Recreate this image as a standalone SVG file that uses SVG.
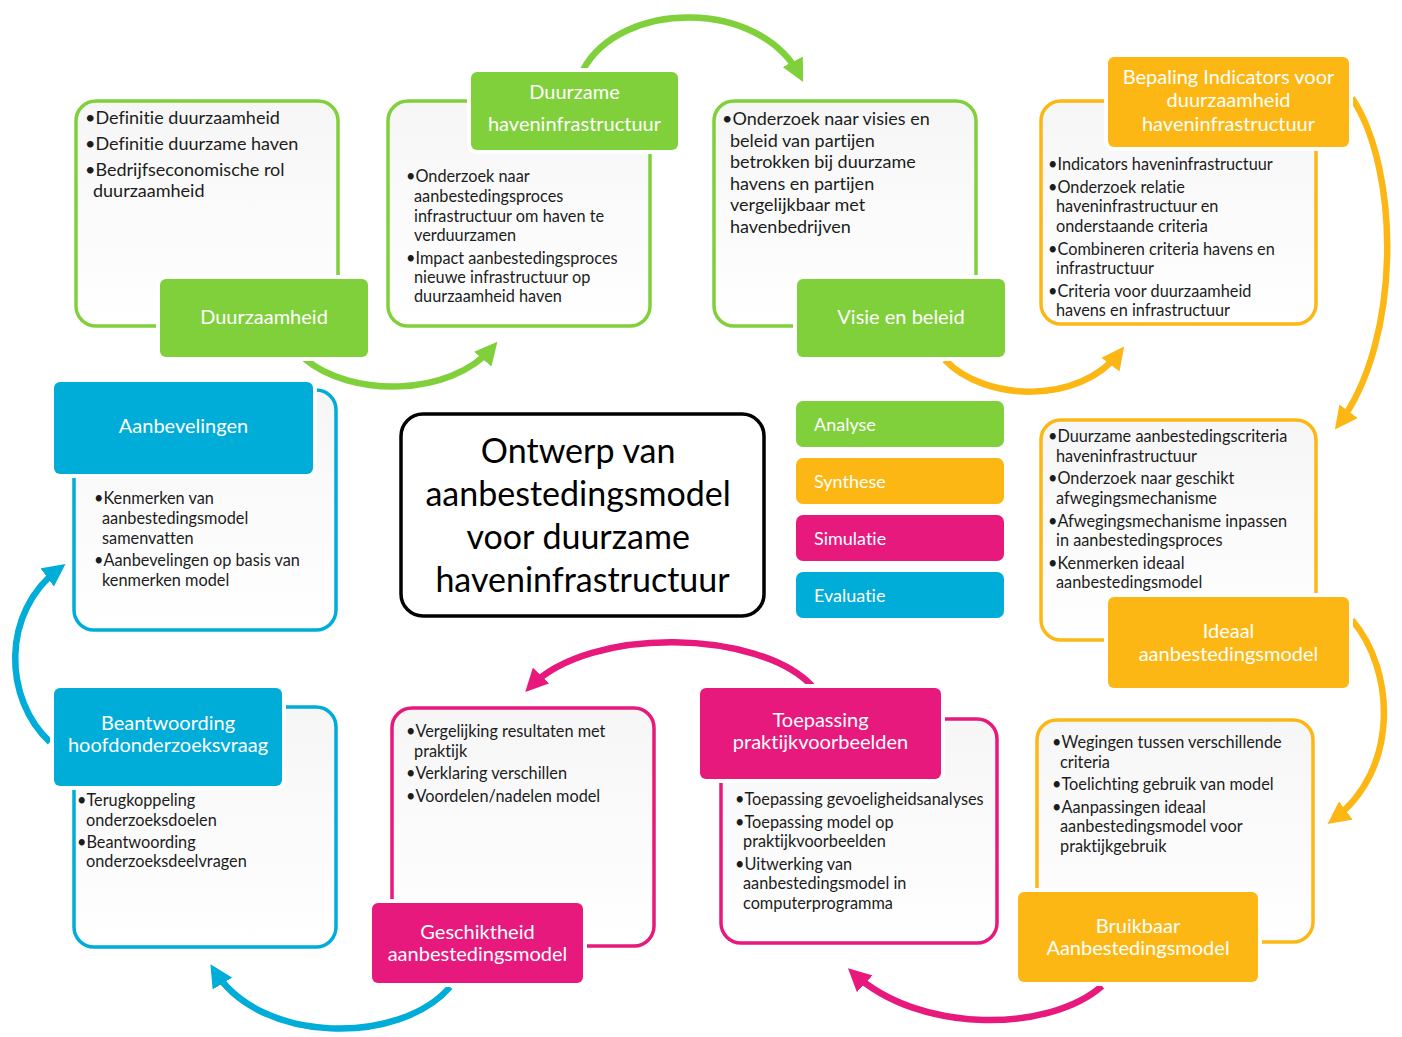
<svg xmlns="http://www.w3.org/2000/svg" width="1402" height="1037" viewBox="0 0 1402 1037">
  <defs>
    <linearGradient id="paper" x1="0" y1="0" x2="0" y2="1">
      <stop offset="0" stop-color="#f6f6f6"/>
      <stop offset="1" stop-color="#ffffff"/>
    </linearGradient>
    <marker id="headG" viewBox="0 0 10 10" refX="7" refY="5" markerWidth="3.5" markerHeight="3.5" orient="auto" markerUnits="strokeWidth">
      <path d="M0,0 L10,5 L0,10 z" fill="#80d03b"/>
    </marker>
    <marker id="headO" viewBox="0 0 10 10" refX="7" refY="5" markerWidth="3.5" markerHeight="3.5" orient="auto" markerUnits="strokeWidth">
      <path d="M0,0 L10,5 L0,10 z" fill="#fdb714"/>
    </marker>
    <marker id="headP" viewBox="0 0 10 10" refX="7" refY="5" markerWidth="3.5" markerHeight="3.5" orient="auto" markerUnits="strokeWidth">
      <path d="M0,0 L10,5 L0,10 z" fill="#e8197d"/>
    </marker>
    <marker id="headB" viewBox="0 0 10 10" refX="7" refY="5" markerWidth="3.5" markerHeight="3.5" orient="auto" markerUnits="strokeWidth">
      <path d="M0,0 L10,5 L0,10 z" fill="#00acd8"/>
    </marker>
  </defs>
  <style>
    text { font-variant-ligatures: none; }
    .frame { fill: url(#paper); stroke-width: 3.5; }
    .g .frame { stroke: #80d03b; }
    .o .frame { stroke: #fdb714; }
    .p .frame { stroke: #e8197d; }
    .b .frame { stroke: #00acd8; }
    .tag { stroke: #ffffff; stroke-width: 8; paint-order: stroke; }
    .g .tag { fill: #80d03b; }
    .o .tag { fill: #fdb714; }
    .p .tag { fill: #e8197d; }
    .b .tag { fill: #00acd8; }
    .tagtxt { font-family: Lato, "Liberation Sans", sans-serif; font-size: 20px; fill: #ffffff; text-anchor: middle; }
    .txt { font-family: Lato, "Liberation Sans", sans-serif; fill: #1c1c1c; }
    .s18 { font-size: 18px; }
    .s16 { font-size: 16.3px; }
    .arc { fill: none; stroke-width: 6.5; }
    .legend { font-family: Lato, "Liberation Sans", sans-serif; font-size: 18px; fill: #ffffff; }
  </style>
  <rect width="1402" height="1037" fill="#ffffff"/>

  <!-- curved connectors between the stages -->
  <g id="connectors">
    <path class="arc" stroke="#80d03b" marker-end="url(#headG)" d="M305 359 C350 397 450 398 493 347"/>
    <path class="arc" stroke="#80d03b" marker-end="url(#headG)" d="M583 70 C620 0 760 -2 800 76"/>
    <path class="arc" stroke="#fdb714" marker-end="url(#headO)" d="M945 360 C985 402 1080 405 1120 352"/>
    <path class="arc" stroke="#fdb714" marker-end="url(#headO)" d="M1352 98 C1400 170 1402 340 1339 424"/>
    <path class="arc" stroke="#fdb714" marker-end="url(#headO)" d="M1352 620 C1395 670 1400 770 1333 820"/>
    <path class="arc" stroke="#e8197d" marker-end="url(#headP)" d="M1102 986 C1050 1032 920 1035 853 973"/>
    <path class="arc" stroke="#e8197d" marker-end="url(#headP)" d="M812 686 C760 630 590 625 530 687"/>
    <path class="arc" stroke="#00acd8" marker-end="url(#headB)" d="M450 987 C400 1045 260 1045 214 970"/>
    <path class="arc" stroke="#00acd8" marker-end="url(#headB)" d="M50 742 C4 700 0 612 60 568"/>
  </g>

  <!-- Analyse stages -->
  <g id="duurzaamheid" class="g">
    <rect class="frame" x="76" y="101" width="262" height="225" rx="20"/>
    <rect class="tag" x="160" y="279" width="208" height="78" rx="6"/>
    <text class="tagtxt" x="264" y="324">Duurzaamheid</text>
    <text class="txt s18">
      <tspan x="85" y="124">•Definitie duurzaamheid</tspan>
      <tspan x="85" y="150">•Definitie duurzame haven</tspan>
      <tspan x="85" y="176">•Bedrijfseconomische rol</tspan>
      <tspan x="93" y="197">duurzaamheid</tspan>
    </text>
  </g>

  <g id="duurzame-haveninfrastructuur" class="g">
    <rect class="frame" x="388" y="101" width="262" height="225" rx="20"/>
    <rect class="tag" x="471" y="72" width="207" height="78" rx="6"/>
    <text class="tagtxt" x="574.5" y="99">Duurzame</text>
    <text class="tagtxt" x="574.5" y="131">haveninfrastructuur</text>
    <text class="txt s16">
      <tspan x="406" y="181.5">•Onderzoek naar</tspan>
      <tspan x="414" y="201.5">aanbestedingsproces</tspan>
      <tspan x="414" y="221.5">infrastructuur om haven te</tspan>
      <tspan x="414" y="240.5">verduurzamen</tspan>
      <tspan x="406" y="263.5">•Impact aanbestedingsproces</tspan>
      <tspan x="414" y="282.5">nieuwe infrastructuur op</tspan>
      <tspan x="414" y="301.5">duurzaamheid haven</tspan>
    </text>
  </g>

  <g id="visie-en-beleid" class="g">
    <rect class="frame" x="714" y="101" width="262" height="225" rx="20"/>
    <rect class="tag" x="797" y="279" width="208" height="78" rx="6"/>
    <text class="tagtxt" x="901" y="324">Visie en beleid</text>
    <text class="txt s18">
      <tspan x="722" y="125">•Onderzoek naar visies en</tspan>
      <tspan x="730" y="147">beleid van partijen</tspan>
      <tspan x="730" y="168">betrokken bij duurzame</tspan>
      <tspan x="730" y="190">havens en partijen</tspan>
      <tspan x="730" y="211">vergelijkbaar met</tspan>
      <tspan x="730" y="233">havenbedrijven</tspan>
    </text>
  </g>

  <!-- Synthese stages -->
  <g id="bepaling-indicators" class="o">
    <rect class="frame" x="1041" y="101" width="275" height="223" rx="20"/>
    <rect class="tag" x="1108" y="57" width="241" height="90" rx="6"/>
    <text class="tagtxt" x="1228.5" y="84">Bepaling Indicators voor</text>
    <text class="tagtxt" x="1228.5" y="107">duurzaamheid</text>
    <text class="tagtxt" x="1228.5" y="131">haveninfrastructuur</text>
    <text class="txt s16">
      <tspan x="1048" y="169.5">•Indicators haveninfrastructuur</tspan>
      <tspan x="1048" y="192.5">•Onderzoek relatie</tspan>
      <tspan x="1056" y="211.5">haveninfrastructuur en</tspan>
      <tspan x="1056" y="231.5">onderstaande criteria</tspan>
      <tspan x="1048" y="254.5">•Combineren criteria havens en</tspan>
      <tspan x="1056" y="273.5">infrastructuur</tspan>
      <tspan x="1048" y="296.5">•Criteria voor duurzaamheid</tspan>
      <tspan x="1056" y="315.5">havens en infrastructuur</tspan>
    </text>
  </g>

  <g id="ideaal-aanbestedingsmodel" class="o">
    <rect class="frame" x="1041" y="420" width="275" height="220" rx="20"/>
    <rect class="tag" x="1108" y="597" width="241" height="91" rx="6"/>
    <text class="tagtxt" x="1228.5" y="638">Ideaal</text>
    <text class="tagtxt" x="1228.5" y="661">aanbestedingsmodel</text>
    <text class="txt s16">
      <tspan x="1048" y="441.5">•Duurzame aanbestedingscriteria</tspan>
      <tspan x="1056" y="461.5">haveninfrastructuur</tspan>
      <tspan x="1048" y="483.5">•Onderzoek naar geschikt</tspan>
      <tspan x="1056" y="503.5">afwegingsmechanisme</tspan>
      <tspan x="1048" y="526.5">•Afwegingsmechanisme inpassen</tspan>
      <tspan x="1056" y="545.5">in aanbestedingsproces</tspan>
      <tspan x="1048" y="568.5">•Kenmerken ideaal</tspan>
      <tspan x="1056" y="587.5">aanbestedingsmodel</tspan>
    </text>
  </g>

  <g id="bruikbaar-aanbestedingsmodel" class="o">
    <rect class="frame" x="1037" y="720" width="276" height="222" rx="20"/>
    <rect class="tag" x="1018" y="892" width="240" height="90" rx="6"/>
    <text class="tagtxt" x="1138" y="933">Bruikbaar</text>
    <text class="tagtxt" x="1138" y="955">Aanbestedingsmodel</text>
    <text class="txt s16">
      <tspan x="1052" y="747.5">•Wegingen tussen verschillende</tspan>
      <tspan x="1060" y="767.5">criteria</tspan>
      <tspan x="1052" y="789.5">•Toelichting gebruik van model</tspan>
      <tspan x="1052" y="812.5">•Aanpassingen ideaal</tspan>
      <tspan x="1060" y="831.5">aanbestedingsmodel voor</tspan>
      <tspan x="1060" y="851.5">praktijkgebruik</tspan>
    </text>
  </g>

  <!-- Simulatie stages -->
  <g id="toepassing-praktijkvoorbeelden" class="p">
    <rect class="frame" x="721" y="719" width="276" height="224" rx="20"/>
    <rect class="tag" x="700" y="688" width="241" height="91" rx="6"/>
    <text class="tagtxt" x="820.5" y="727">Toepassing</text>
    <text class="tagtxt" x="820.5" y="749">praktijkvoorbeelden</text>
    <text class="txt s16">
      <tspan x="735" y="804.5">•Toepassing gevoeligheidsanalyses</tspan>
      <tspan x="735" y="827.5">•Toepassing model op</tspan>
      <tspan x="743" y="846.5">praktijkvoorbeelden</tspan>
      <tspan x="735" y="869.5">•Uitwerking van</tspan>
      <tspan x="743" y="888.5">aanbestedingsmodel in</tspan>
      <tspan x="743" y="908.5">computerprogramma</tspan>
    </text>
  </g>

  <g id="geschiktheid-aanbestedingsmodel" class="p">
    <rect class="frame" x="392" y="708" width="262" height="238" rx="20"/>
    <rect class="tag" x="372" y="903" width="211" height="80" rx="6"/>
    <text class="tagtxt" x="477.5" y="939">Geschiktheid</text>
    <text class="tagtxt" x="477.5" y="961">aanbestedingsmodel</text>
    <text class="txt s16">
      <tspan x="406" y="736.5">•Vergelijking resultaten met</tspan>
      <tspan x="414" y="756.5">praktijk</tspan>
      <tspan x="406" y="778.5">•Verklaring verschillen</tspan>
      <tspan x="406" y="801.5">•Voordelen/nadelen model</tspan>
    </text>
  </g>

  <!-- Evaluatie stages -->
  <g id="beantwoording-hoofdonderzoeksvraag" class="b">
    <rect class="frame" x="74" y="707" width="262" height="240" rx="20"/>
    <rect class="tag" x="54" y="688" width="228" height="98" rx="6"/>
    <text class="tagtxt" x="168" y="730">Beantwoording</text>
    <text class="tagtxt" x="168" y="752">hoofdonderzoeksvraag</text>
    <text class="txt s16">
      <tspan x="77" y="805.5">•Terugkoppeling</tspan>
      <tspan x="86" y="825.5">onderzoeksdoelen</tspan>
      <tspan x="77" y="847.5">•Beantwoording</tspan>
      <tspan x="86" y="866.5">onderzoeksdeelvragen</tspan>
    </text>
  </g>

  <g id="aanbevelingen" class="b">
    <rect class="frame" x="74" y="390" width="262" height="240" rx="20"/>
    <rect class="tag" x="54" y="382" width="259" height="92" rx="6"/>
    <text class="tagtxt" x="183.5" y="433">Aanbevelingen</text>
    <text class="txt s16">
      <tspan x="94" y="503.5">•Kenmerken van</tspan>
      <tspan x="102" y="523.5">aanbestedingsmodel</tspan>
      <tspan x="102" y="543.5">samenvatten</tspan>
      <tspan x="94" y="565.5">•Aanbevelingen op basis van</tspan>
      <tspan x="102" y="585.5">kenmerken model</tspan>
    </text>
  </g>

  <!-- central title -->
  <g id="titel">
    <rect x="401" y="414" width="363" height="202" rx="22" fill="#ffffff" stroke="#000000" stroke-width="3.5"/>
    <text font-family="Lato, 'Liberation Sans', sans-serif" font-size="34" fill="#000000" text-anchor="middle">
      <tspan x="582.5" y="463">Ontwerp van</tspan>
      <tspan x="582.5" y="506">aanbestedingsmodel</tspan>
      <tspan x="582.5" y="549">voor duurzame</tspan>
      <tspan x="582.5" y="592">haveninfrastructuur</tspan>
    </text>
  </g>

  <!-- colour key -->
  <g id="legenda">
    <rect x="796" y="401" width="208" height="46" rx="7" fill="#80d03b"/>
    <text class="legend" x="814" y="431">Analyse</text>
    <rect x="796" y="458" width="208" height="46" rx="7" fill="#fdb714"/>
    <text class="legend" x="814" y="488">Synthese</text>
    <rect x="796" y="515" width="208" height="46" rx="7" fill="#e8197d"/>
    <text class="legend" x="814" y="545">Simulatie</text>
    <rect x="796" y="572" width="208" height="46" rx="7" fill="#00acd8"/>
    <text class="legend" x="814" y="602">Evaluatie</text>
  </g>
</svg>
